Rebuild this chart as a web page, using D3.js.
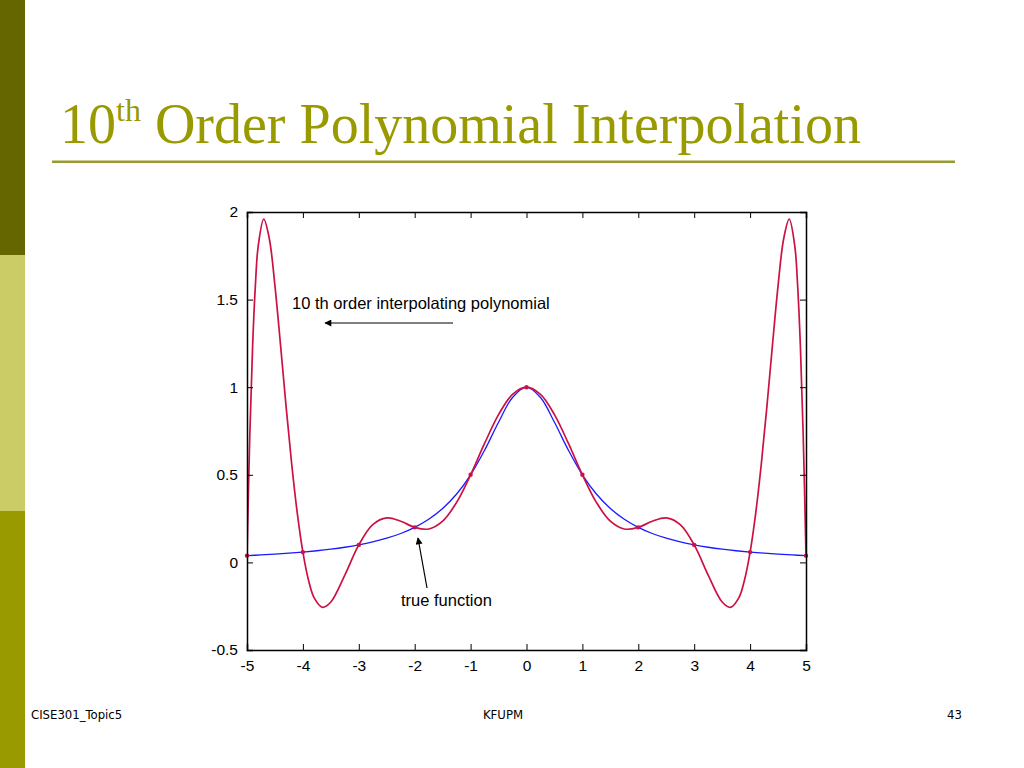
<!DOCTYPE html>
<html><head><meta charset="utf-8">
<script src="https://cdn.jsdelivr.net/npm/d3@7"></script>
<style>body{margin:0;background:#fff}svg{display:block}</style>
</head><body>
<svg id="c" width="1024" height="768"></svg>
<script>
// Data
const xTicks = [-5,-4,-3,-2,-1,0,1,2,3,4,5];
const yTicks = [-0.5,0,0.5,1,1.5,2];
const polyX = [-5,-4.95,-4.9,-4.85,-4.8,-4.7,-4.6,-4.5,-4.4,-4.3,-4.2,-4.1,-4,-3.9,-3.8,-3.65,-3.5,-3.25,-3,-2.75,-2.5,-2.25,-2,-1.75,-1.5,-1.25,-1,-0.75,-0.5,-0.25,0,0.25,0.5,0.75,1,1.25,1.5,1.75,2,2.25,2.5,2.75,3,3.25,3.5,3.65,3.8,3.9,4,4.1,4.2,4.3,4.4,4.5,4.6,4.7,4.8,4.85,4.9,4.95,5];
const polyY = [0.0385,0.7261,1.2303,1.5810,1.8044,1.9589,1.8459,1.5787,1.2402,0.8881,0.5604,0.2802,0.0588,-0.1007,-0.2013,-0.2569,-0.2262,-0.0726,0.1,0.2156,0.2538,0.2350,0.2,0.1906,0.2354,0.3426,0.5,0.6790,0.8434,0.9586,1,0.9586,0.8434,0.6790,0.5,0.3426,0.2354,0.1906,0.2,0.2350,0.2538,0.2156,0.1,-0.0726,-0.2262,-0.2569,-0.2013,-0.1007,0.0588,0.2802,0.5604,0.8881,1.2402,1.5787,1.8459,1.9589,1.8044,1.5810,1.2303,0.7261,0.0385];
const trueX = [-5,-4.75,-4.5,-4.25,-4,-3.75,-3.5,-3.25,-3,-2.75,-2.5,-2.25,-2,-1.75,-1.5,-1.25,-1,-0.75,-0.5,-0.25,0,0.25,0.5,0.75,1,1.25,1.5,1.75,2,2.25,2.5,2.75,3,3.25,3.5,3.75,4,4.25,4.5,4.75,5];
const trueY = [0.0385,0.0424,0.0471,0.0525,0.0588,0.0664,0.0755,0.0865,0.1,0.1168,0.1379,0.1649,0.2,0.2462,0.3077,0.3902,0.5,0.64,0.8,0.9412,1,0.9412,0.8,0.64,0.5,0.3902,0.3077,0.2462,0.2,0.1649,0.1379,0.1168,0.1,0.0865,0.0755,0.0664,0.0588,0.0525,0.0471,0.0424,0.0385];
const nodeX = [-5,-4,-3,-2,-1,0,1,2,3,4,5];
const nodeY = [0.0385,0.0588,0.1,0.2,0.5,1,0.5,0.2,0.1,0.0588,0.0385];

const svg = d3.select('#c');
// sidebar
const side = [["#666600",0,255],["#cccc66",255,511],["#999900",511,768]];
side.forEach(s=>svg.append('rect').attr('x',0).attr('y',s[1]).attr('width',25).attr('height',s[2]-s[1]).attr('fill',s[0]));

// title
const t = svg.append('text').attr('x',60).attr('y',143).attr('fill','#999900')
  .attr('font-family','Liberation Serif, serif').attr('font-size',56);
t.append('tspan').text('10');
t.append('tspan').attr('font-size',32).attr('dy',-22).text('th');
t.append('tspan').attr('dy',22).text(' Order Polynomial Interpolation');
svg.append('rect').attr('x',52).attr('y',160.5).attr('width',903).attr('height',2.5).attr('fill','#999933');

// footer
const ff = 'DejaVu Sans Condensed, Liberation Sans Narrow, sans-serif';
svg.append('text').attr('x',31).attr('y',719).attr('font-family',ff).attr('font-size',13).text('CISE301_Topic5');
svg.append('text').attr('x',503).attr('y',719).attr('text-anchor','middle').attr('font-family',ff).attr('font-size',13).text('KFUPM');
svg.append('text').attr('x',962).attr('y',719).attr('text-anchor','end').attr('font-family',ff).attr('font-size',13).text('43');

// plot
const L=247, R=806, T=212, B=650;
const x = d3.scaleLinear().domain([-5,5]).range([L,R]);
const y = d3.scaleLinear().domain([-0.5,2]).range([B,T]);
const g = svg.append('g');
const fs = 'Liberation Sans, Arial, sans-serif';

svg.append('clipPath').attr('id','cp').append('rect').attr('x',L).attr('y',T-2).attr('width',R-L).attr('height',B-T+2);

const line = d3.line().x(d=>x(d[0])).y(d=>y(d[1])).curve(d3.curveCatmullRom.alpha(0.5));
g.append('path').datum(trueX.map((v,i)=>[v,trueY[i]])).attr('d',line)
  .attr('fill','none').attr('stroke','#1a1aff').attr('stroke-width',1.3).attr('clip-path','url(#cp)');
g.append('path').datum(polyX.map((v,i)=>[v,polyY[i]])).attr('d',line)
  .attr('fill','none').attr('stroke','#cc1144').attr('stroke-width',1.7).attr('clip-path','url(#cp)');
g.selectAll('circle.n').data(nodeX).enter().append('circle')
  .attr('cx',d=>x(d)).attr('cy',(d,i)=>y(nodeY[i])).attr('r',2.2).attr('fill','#cc1144');

// axes box
const fmt = d=>String(d);
const axB = d3.axisBottom(x).tickValues(xTicks).tickSize(-6).tickPadding(10).tickFormat(fmt);
const axT = d3.axisTop(x).tickValues(xTicks).tickSize(-6).tickFormat('');
const axL = d3.axisLeft(y).tickValues(yTicks).tickSize(-6).tickPadding(9).tickFormat(fmt);
const axR = d3.axisRight(y).tickValues(yTicks).tickSize(-6).tickFormat('');
[[axB,`translate(0,${B})`],[axT,`translate(0,${T})`],[axL,`translate(${L},0)`],[axR,`translate(${R},0)`]].forEach(a=>{
  const gg = g.append('g').attr('transform',a[1]).call(a[0]);
  gg.select('.domain').attr('stroke','#000').attr('stroke-width',1.5);
  gg.selectAll('.tick line').attr('stroke','#000').attr('stroke-width',1);
  gg.selectAll('text').attr('font-family',fs).attr('font-size',15.5).attr('fill','#000');
});

// annotations
const defs = svg.append('defs');
defs.append('marker').attr('id','ah').attr('viewBox','0 0 10 10').attr('refX',9).attr('refY',5)
  .attr('markerWidth',10).attr('markerHeight',7).attr('markerUnits','userSpaceOnUse').attr('orient','auto')
  .append('path').attr('d','M0,0L10,5L0,10z').attr('fill','#000');
svg.append('text').attr('x',292).attr('y',309).attr('font-family',fs).attr('font-size',16.5).text('10 th order interpolating polynomial');
svg.append('line').attr('x1',453).attr('y1',323).attr('x2',325).attr('y2',323).attr('stroke','#000').attr('stroke-width',1.2).attr('marker-end','url(#ah)');
svg.append('text').attr('x',401).attr('y',606).attr('font-family',fs).attr('font-size',16.5).text('true function');
svg.append('line').attr('x1',427).attr('y1',588).attr('x2',418).attr('y2',538).attr('stroke','#000').attr('stroke-width',1.2).attr('marker-end','url(#ah)');
</script>
</body></html>
